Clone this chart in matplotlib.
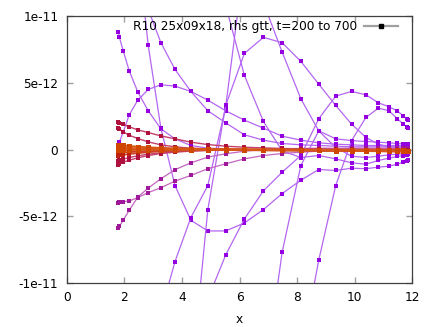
import numpy as np
import matplotlib
matplotlib.use("Agg")
import matplotlib.pyplot as plt
from matplotlib.lines import Line2D

nan = float("nan")

# radial grid (25 points)
x = [1.79, 1.83, 1.96, 2.17, 2.47, 2.83, 3.27, 3.76, 4.31, 4.90, 5.52, 6.17, 6.83,
     7.48, 8.13, 8.75, 9.34, 9.89, 10.39, 10.82, 11.19, 11.48, 11.69, 11.82, 11.86]

# values in units of 1e-12 (nan = far outside the plotted range)
# purple curves
pA = [8.8, 8.4, 7.4, 5.9, 4.3, 2.9, 1.55, 0.8, 0.3, 0.1, 0.05, 0.0, -0.05, -0.05,
      -0.05, -0.05, -0.05, -0.05, -0.05, -0.05, -0.05, -0.05, -0.05, -0.05, -0.05]
pB = [0.3, 0.55, 1.3, 2.6, 3.7, 4.5, 4.85, 4.75, 4.35, 3.7, 2.9, 2.2, 1.6, 1.0,
      0.7, 0.5, 0.4, 0.35, 0.3, 0.3, 0.3, 0.3, 0.3, 0.3, 0.3]
pC = [nan, nan, nan, nan, 15, 7.8, 1.6, -2.7, -5.3, -6.1, -6.1, -5.5, -4.5, -3.3,
      -2.3, -1.5, -1.57, -1.4, -1.44, -1.32, -1.25, -1.1, -0.95, -0.85, -0.8]
pD = [nan, nan, nan, nan, nan, nan, -12.2, -8.4, -5.1, -2.7, 3.2, 14.2, 11.0, 7.3,
      3.8, 1.4, 0.15, -0.5, -0.6, -0.5, -0.4, -0.35, -0.3, -0.3, -0.3]
pE = [nan, nan, nan, nan, nan, nan, nan, nan, -17.5, -4.5, 3.3, 7.2, 8.4, 8.0,
      6.6, 4.9, 3.3, 1.9, 0.9, 0.4, 0.2, 0.15, 0.1, 0.1, 0.1]
pF = [nan, nan, nan, nan, nan, nan, nan, nan, nan, nan, 10.8, 5.55, 2.1, -0.1,
      -0.6, -0.45, -0.7, -1.0, -1.1, -0.82, -0.65, -0.52, -0.45, -0.4, -0.37]
pK = [nan, nan, nan, nan, nan, 10.5, 8.0, 6.0, 4.35, 2.9, 2.0, 1.1, 0.7, 0.45,
      0.35, 0.3, 0.25, 0.2, 0.2, 0.2, 0.2, 0.2, 0.2, 0.2, 0.2]
pN = [nan, nan, nan, nan, nan, nan, nan, nan, nan, -11.2, -7.9, -5.2, -3.1, -1.7,
      -0.45, 2.3, 4.0, 4.35, 4.1, 3.5, 3.2, 2.9, 2.5, 2.3, 2.2]
pM = [nan, nan, nan, nan, nan, nan, nan, nan, nan, nan, nan, nan, -17.7, -7.7,
      -1.2, 1.4, 0.8, 0.67, 0.6, 0.55, 0.5, 0.45, 0.42, 0.4, 0.4]
pL = [nan, nan, nan, nan, nan, nan, nan, nan, nan, nan, nan, nan, nan, nan,
      -15.4, -8.3, -2.7, 0.67, 2.4, 3.1, 2.9, 2.3, 1.9, 1.7, 1.6]
# magenta curves
mQ1 = [-5.9, -5.75, -5.3, -4.55, -3.56, -2.89, -2.19, -1.51, -1.0, -0.57, -0.32,
       -0.13, 0.0, 0.05, 0.08, 0.1, 0.1, 0.1, 0.1, 0.1, 0.1, 0.1, 0.1, 0.1, 0.1]
mQ2 = [-3.98, -3.96, -3.9, -3.86, -3.6, -3.23, -2.86, -2.37, -1.94, -1.44, -1.07,
       -0.7, -0.45, -0.3, -0.2, -0.12, -0.08, -0.05, -0.05, -0.05, -0.05, -0.05,
       -0.05, -0.05, -0.05]
# crimson curves
cR1 = [2.09, 2.0, 1.9, 1.7, 1.47, 1.27, 1.02, 0.8, 0.55, 0.37, 0.25, 0.17, 0.12,
       0.08, 0.05, 0.03, 0.02, 0.01, 0, 0, 0, 0, 0, 0, 0]
cR2 = [1.64, 1.55, 1.32, 1.07, 0.82, 0.57, 0.35, 0.2, 0.1, 0.05, 0.02, 0, 0, 0,
       0, 0, 0, 0, 0, 0, 0, 0, 0, 0, 0]
cR3 = [-0.85, -0.82, -0.72, -0.6, -0.47, -0.35, -0.25, -0.16, -0.1, -0.06, -0.04,
       -0.02, 0, 0, 0, 0, 0, 0, 0, 0, 0, 0, 0, 0, 0]
cR4 = [-1.14, -1.1, -0.95, -0.8, -0.62, -0.45, -0.3, -0.2, -0.12, -0.07, -0.04,
       -0.02, 0, 0, 0, 0, 0, 0, 0, 0, 0, 0, 0, 0, 0]
# orange / red curves near zero
oO1 = [0.35, 0.34, 0.3, 0.26, 0.21, 0.16, 0.12, 0.08, 0.05, 0.03, 0.02, 0.01, 0.0,
       -0.01, -0.02, -0.03, -0.04, -0.05, -0.06, -0.06, -0.07, -0.07, -0.07, -0.08, -0.08]
oO2 = [0.15, 0.15, 0.13, 0.11, 0.09, 0.07, 0.05, 0.04, 0.03, 0.02, 0.01, 0.0, -0.01,
       -0.02, -0.03, -0.04, -0.05, -0.06, -0.07, -0.08, -0.09, -0.1, -0.1, -0.1, -0.1]
oO3 = [-0.05, -0.05, -0.04, -0.04, -0.03, -0.03, -0.02, -0.02, -0.02, -0.02, -0.03,
       -0.03, -0.04, -0.05, -0.06, -0.07, -0.08, -0.09, -0.1, -0.11, -0.12, -0.12,
       -0.12, -0.13, -0.13]
oO4 = [-0.25, -0.24, -0.22, -0.19, -0.16, -0.12, -0.09, -0.06, -0.04, -0.03, -0.03,
       -0.04, -0.05, -0.06, -0.07, -0.08, -0.09, -0.1, -0.11, -0.12, -0.13, -0.13,
       -0.14, -0.14, -0.14]
oO5 = [-0.45, -0.44, -0.4, -0.34, -0.27, -0.2, -0.14, -0.09, -0.06, -0.04, -0.04,
       -0.05, -0.06, -0.07, -0.08, -0.09, -0.1, -0.11, -0.12, -0.13, -0.14, -0.15,
       -0.15, -0.15, -0.15]

yticks = [-1e-11, -5e-12, 0, 5e-12, 1e-11]
ytick_labels = ["-1e-11", "-5e-12", "0", "5e-12", "1e-11"]
xticks = [0, 2, 4, 6, 8, 10, 12]

# (series, line colour, point colour, line width, marker size)
groups = [
    ([pA, pB, pC, pD, pE, pF, pK, pN, pM, pL], "#b466f2", "#9400e0", 0.9, 2.7),
    ([mQ1, mQ2], "#c466c0", "#a0189a", 0.9, 2.7),
    ([cR1, cR2, cR3, cR4], "#c4406a", "#b0103e", 1.0, 2.9),
    ([oO4, oO5], "#cc4028", "#c02010", 1.3, 3.4),
    ([oO1, oO2, oO3], "#d65818", "#d04800", 1.4, 3.6),
]

plt.rcParams["font.family"] = "DejaVu Sans"
fs = 8.7

fig = plt.figure(figsize=(4.36, 3.27), dpi=100)
fig.subplots_adjust(left=0.153, right=0.9457, top=0.951, bottom=0.1346)
ax = fig.add_subplot(111)

for series, lc, pc, lw, ms in groups:
    for s in series:
        y = np.array(s) * 1e-12
        ax.plot(x, y, "-", color=lc, lw=lw)
        ax.plot(x, y, "s", color=pc, ms=ms, mew=0)

ax.set_xlim(0, 12)
ax.set_ylim(-1e-11, 1e-11)
ax.set_xticks(xticks)
ax.set_xticklabels([str(t) for t in xticks])
ax.set_yticks(yticks)
ax.set_yticklabels(ytick_labels)
ax.tick_params(direction="in", top=True, right=True, length=4, width=1,
               color="#a0a0a0", labelsize=fs, pad=6)
for sp in ax.spines.values():
    sp.set_color("#404040")
    sp.set_linewidth(0.9)
ax.set_xlabel("x", fontsize=fs, labelpad=6)

proxy = Line2D([], [], color="#a0a0a0", lw=1.6, marker="s", ms=2.6,
               mfc="black", mec="black")
ax.legend([proxy], ["R10 25x09x18, rhs gtt, t=200 to 700"], loc="upper right",
          bbox_to_anchor=(0.959, 0.985), frameon=False, markerfirst=False,
          handlelength=2.8, handletextpad=0.6, borderpad=0, borderaxespad=0,
          fontsize=fs)

fig.savefig("out.png", dpi=100)
